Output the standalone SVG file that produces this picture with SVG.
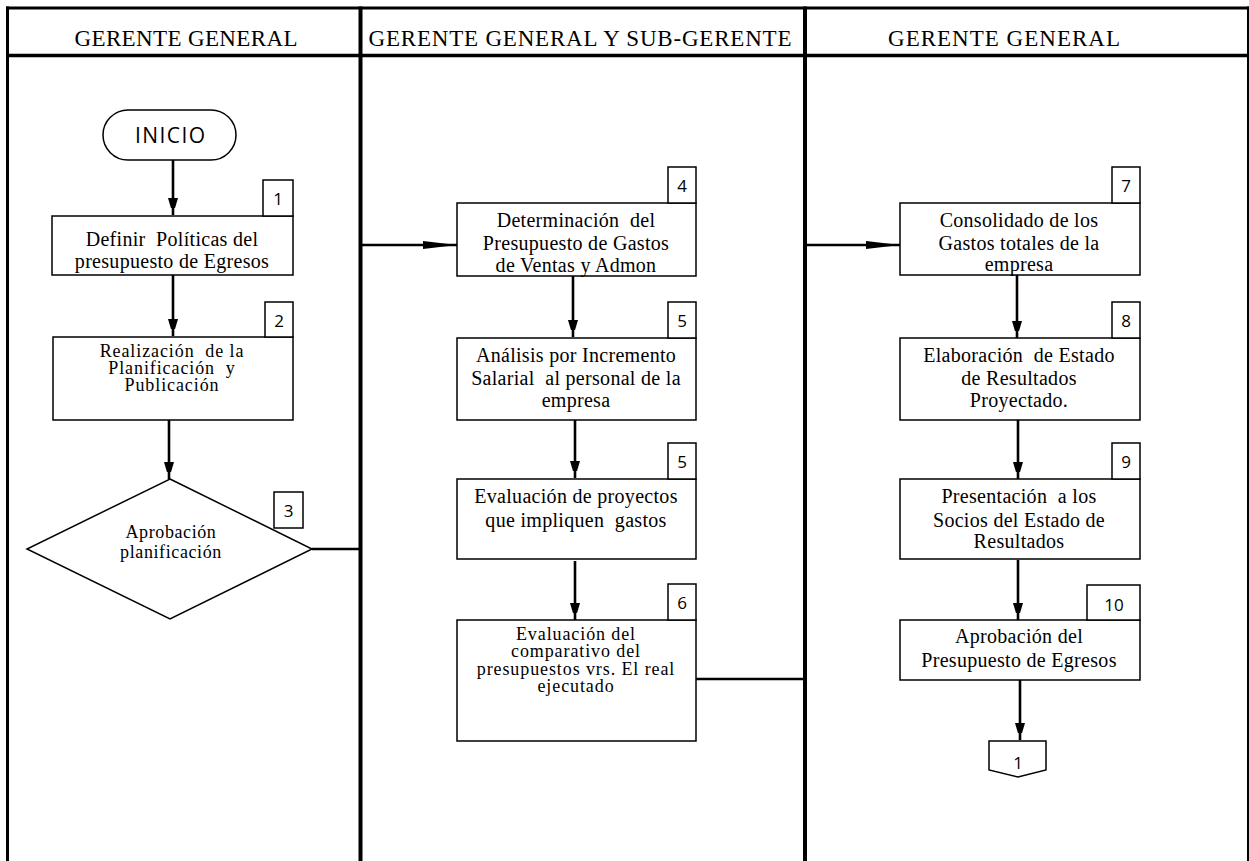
<svg xmlns="http://www.w3.org/2000/svg" width="1249" height="861" viewBox="0 0 1249 861">
  <style>
    .lane { stroke: #000; fill: none; }
    .hdr { font-family: "Liberation Serif", "Times New Roman", serif; font-size: 23px; fill: #000; text-anchor: middle; }
    .box { fill: #fff; stroke: #000; stroke-width: 1.5; }
    .num { fill: #fff; stroke: #000; stroke-width: 1.5; }
    .t { font-family: "Liberation Serif", "Times New Roman", serif; font-size: 20px; fill: #000; text-anchor: middle; letter-spacing: 0.3px; white-space: pre; }
    .tc { font-family: "Liberation Serif", "Times New Roman", serif; font-size: 18px; fill: #000; text-anchor: middle; letter-spacing: 0.9px; white-space: pre; }
    .td { font-family: "Liberation Serif", "Times New Roman", serif; font-size: 18px; fill: #000; text-anchor: middle; letter-spacing: 0.6px; }
    .n { font-family: "Open Sans", Lato, sans-serif; font-size: 17px; fill: #000; text-anchor: middle; }
    .start { font-family: "Open Sans", Lato, sans-serif; font-size: 21px; fill: #000; text-anchor: middle; }
    .flow { stroke: #000; stroke-width: 2.6; fill: none; }
  </style>
  <defs>
    <marker id="arr" viewBox="0 0 10 17" refX="17" refY="5" markerWidth="10" markerHeight="17" markerUnits="userSpaceOnUse" orient="auto">
      <path d="M0,0 L17,5 L0,10 z" fill="#000"/>
    </marker>
    <marker id="arrLong" viewBox="0 0 34 9" refX="34" refY="4.5" markerWidth="34" markerHeight="9" markerUnits="userSpaceOnUse" orient="auto">
      <path d="M0,0.5 L34,4.5 L0,8.5 z" fill="#000"/>
    </marker>
  </defs>

  <rect width="1249" height="861" fill="#fff"/>

  <!-- swimlane frame -->
  <g id="lanes">
    <line class="lane" x1="6" y1="8" x2="1249" y2="8" stroke-width="3"/>
    <line class="lane" x1="6" y1="55.5" x2="1249" y2="55.5" stroke-width="3.5"/>
    <line class="lane" x1="7.5" y1="6.5" x2="7.5" y2="861" stroke-width="3"/>
    <line class="lane" x1="360.5" y1="6.5" x2="360.5" y2="861" stroke-width="4"/>
    <line class="lane" x1="805" y1="6.5" x2="805" y2="861" stroke-width="4"/>
    <line class="lane" x1="1248" y1="6.5" x2="1248" y2="861" stroke-width="2"/>
    <text class="hdr" x="186" y="46" textLength="223" lengthAdjust="spacing">GERENTE GENERAL</text>
    <text class="hdr" x="580" y="46" textLength="423" lengthAdjust="spacing">GERENTE GENERAL Y SUB-GERENTE</text>
    <text class="hdr" x="1004" y="46" textLength="232" lengthAdjust="spacing">GERENTE GENERAL</text>
  </g>

  <!-- connectors -->
  <g id="connectors">
    <path class="flow" d="M173,160 V215" marker-end="url(#arr)"/>
    <path class="flow" d="M173,275 V336" marker-end="url(#arr)"/>
    <path class="flow" d="M169,420 V479" marker-end="url(#arr)"/>
    <path class="flow" d="M312,549 H360"/>
    <path class="flow" d="M362,245 H457" marker-end="url(#arrLong)"/>
    <path class="flow" d="M573,276 V337" marker-end="url(#arr)"/>
    <path class="flow" d="M575,420 V478" marker-end="url(#arr)"/>
    <path class="flow" d="M575,561 V620" marker-end="url(#arr)"/>
    <path class="flow" d="M696,679 H805"/>
    <path class="flow" d="M807,245 H900" marker-end="url(#arrLong)"/>
    <path class="flow" d="M1017,275 V338" marker-end="url(#arr)"/>
    <path class="flow" d="M1018,420 V479" marker-end="url(#arr)"/>
    <path class="flow" d="M1018,560 V620" marker-end="url(#arr)"/>
    <path class="flow" d="M1020,680 V740" marker-end="url(#arr)"/>
  </g>

  <!-- lane 1 -->
  <g id="inicio">
    <rect x="103" y="110" width="133" height="50" rx="25" ry="25" fill="#fff" stroke="#000" stroke-width="1.5"/>
    <text class="start" x="170" y="143" textLength="70" lengthAdjust="spacing">INICIO</text>
  </g>
  <g id="paso1">
    <rect class="box" x="52" y="216" width="241" height="59"/>
    <rect class="num" x="263" y="180" width="30" height="36"/>
    <text class="n" x="278" y="205">1</text>
    <text class="t" x="172" y="246">Definir  Políticas del</text>
    <text class="t" x="172" y="268">presupuesto de Egresos</text>
  </g>
  <g id="paso2">
    <rect class="box" x="53" y="337" width="240" height="83"/>
    <rect class="num" x="265" y="302" width="28" height="35"/>
    <text class="n" x="279" y="327">2</text>
    <text class="tc" x="172" y="357">Realización  de la</text>
    <text class="tc" x="172" y="374">Planificación  y</text>
    <text class="tc" x="172" y="391">Publicación</text>
  </g>
  <g id="paso3">
    <polygon points="170,479 312,549 170,619 27,549" fill="#fff" stroke="#000" stroke-width="1.5"/>
    <rect class="num" x="274" y="492" width="29" height="36"/>
    <text class="n" x="288.5" y="517">3</text>
    <text class="td" x="171" y="538">Aprobación</text>
    <text class="td" x="171" y="558">planificación</text>
  </g>

  <!-- lane 2 -->
  <g id="paso4">
    <rect class="box" x="457" y="203" width="239" height="73"/>
    <rect class="num" x="668" y="167" width="28" height="36"/>
    <text class="n" x="682" y="192">4</text>
    <text class="t" x="576" y="227">Determinación  del</text>
    <text class="t" x="576" y="250">Presupuesto de Gastos</text>
    <text class="t" x="576" y="272">de Ventas y Admon</text>
  </g>
  <g id="paso5a">
    <rect class="box" x="457" y="338" width="239" height="82"/>
    <rect class="num" x="668" y="302" width="28" height="36"/>
    <text class="n" x="682" y="327">5</text>
    <text class="t" x="576" y="362">Análisis por Incremento</text>
    <text class="t" x="576" y="385">Salarial  al personal de la</text>
    <text class="t" x="576" y="407">empresa</text>
  </g>
  <g id="paso5b">
    <rect class="box" x="457" y="479" width="239" height="80"/>
    <rect class="num" x="668" y="443" width="28" height="36"/>
    <text class="n" x="682" y="468">5</text>
    <text class="t" x="576" y="503">Evaluación de proyectos</text>
    <text class="t" x="576" y="527">que impliquen  gastos</text>
  </g>
  <g id="paso6">
    <rect class="box" x="457" y="620" width="239" height="121"/>
    <rect class="num" x="668" y="584" width="28" height="36"/>
    <text class="n" x="682" y="609">6</text>
    <text class="tc" x="576" y="640">Evaluación del</text>
    <text class="tc" x="576" y="657">comparativo del</text>
    <text class="tc" x="576" y="675">presupuestos vrs. El real</text>
    <text class="tc" x="576" y="692">ejecutado</text>
  </g>

  <!-- lane 3 -->
  <g id="paso7">
    <rect class="box" x="900" y="203" width="240" height="72"/>
    <rect class="num" x="1112" y="167" width="28" height="36"/>
    <text class="n" x="1126" y="192">7</text>
    <text class="t" x="1019" y="227">Consolidado de los</text>
    <text class="t" x="1019" y="250">Gastos totales de la</text>
    <text class="t" x="1019" y="271">empresa</text>
  </g>
  <g id="paso8">
    <rect class="box" x="900" y="338" width="240" height="82"/>
    <rect class="num" x="1112" y="302" width="28" height="36"/>
    <text class="n" x="1126" y="327">8</text>
    <text class="t" x="1019" y="362">Elaboración  de Estado</text>
    <text class="t" x="1019" y="385">de Resultados</text>
    <text class="t" x="1019" y="407">Proyectado.</text>
  </g>
  <g id="paso9">
    <rect class="box" x="900" y="479" width="240" height="80"/>
    <rect class="num" x="1112" y="443" width="28" height="36"/>
    <text class="n" x="1126" y="468">9</text>
    <text class="t" x="1019" y="503">Presentación  a los</text>
    <text class="t" x="1019" y="527">Socios del Estado de</text>
    <text class="t" x="1019" y="548">Resultados</text>
  </g>
  <g id="paso10">
    <rect class="box" x="900" y="620" width="240" height="60"/>
    <rect class="num" x="1087" y="585" width="53" height="35"/>
    <text class="n" x="1114" y="611">10</text>
    <text class="t" x="1019" y="643">Aprobación del</text>
    <text class="t" x="1019" y="667">Presupuesto de Egresos</text>
  </g>
  <g id="conector1">
    <polygon points="989,741 1046,741 1046,770 1018,777 989,770" fill="#fff" stroke="#000" stroke-width="1.5"/>
    <text class="n" x="1018" y="769">1</text>
  </g>
</svg>
